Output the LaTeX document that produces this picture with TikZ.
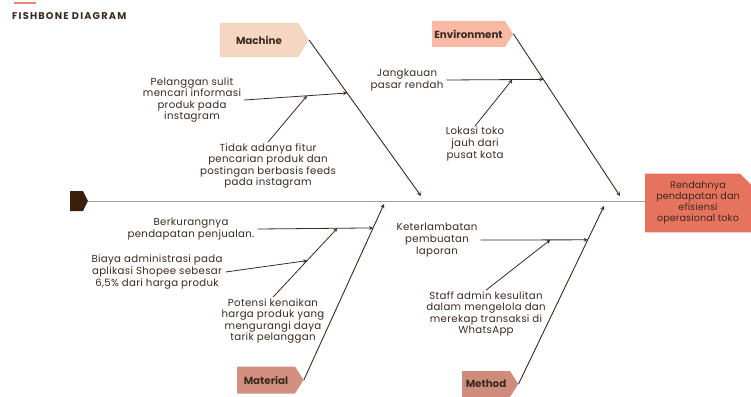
\documentclass[tikz,border=0pt]{standalone}
\usepackage{fontspec}
\setmainfont{Poppins}
\usepackage{xcolor}
\usetikzlibrary{arrows,calc,positioning,shapes.symbols,shapes.misc}

\definecolor{ink}{HTML}{3B2A20}
\definecolor{spinec}{HTML}{A59C97}
\definecolor{headfill}{HTML}{3A1E0E}
\definecolor{accentc}{HTML}{E9876F}
\definecolor{machinefill}{HTML}{F5D6C3}
\definecolor{envfill}{HTML}{F8B9A5}
\definecolor{matfill}{HTML}{D38F7F}
\definecolor{methodfill}{HTML}{CF8C7C}
\definecolor{effectfill}{HTML}{E6735E}

\begin{document}
\begin{tikzpicture}[
            x=1pt, y=-1pt,
            >=stealth,
            every node/.style={text=ink},
            note/.style={align=center, inner xsep=3pt, inner ysep=1pt,
                font=\fontsize{10.2}{11.6}\selectfont\addfontfeature{LetterSpace=3}},
            category/.style={signal, signal to=east, signal pointer angle=115,
                align=center, inner xsep=0pt, inner ysep=0pt,
                font=\bfseries\fontsize{10.3}{11}\selectfont},
            effect/.style={chamfered rectangle, chamfered rectangle corners=north east,
                chamfered rectangle xsep=3pt, chamfered rectangle ysep=8pt,
                fill=effectfill, minimum width=106pt, minimum height=52pt,
                align=center, inner sep=0pt,
                font=\fontsize{9.6}{11}\selectfont\addfontfeature{LetterSpace=1}},
            bone/.style={->, draw=ink, line width=0.9pt},
            twig/.style={->, draw=ink, line width=0.8pt}
        ]
        \useasboundingbox (0,0) rectangle (751,396);

        % title
        \draw[accentc, line width=1.5pt] (14,3) -- (36,3);
        \node[anchor=west, inner sep=0pt,
            font=\bfseries\fontsize{9.8}{10}\selectfont\addfontfeature{LetterSpace=12}]
            (title) at (12,16) {FISHBONE DIAGRAM};

        % head, spine and effect
        \node[signal, signal to=east, signal pointer angle=127, fill=headfill,
            text width=13pt, minimum height=20pt, inner sep=0pt] (head) at (76.5,201) {};
        \node[effect] (effect) at (698,203)
            {Rendahnya\\pendapatan dan\\efisiensi\\operasional toko};
        \draw[spinec, line width=1pt] (head.east) -- (head.east -| effect.west);

        % categories
        \node[category, fill=machinefill, text width=78pt, minimum height=34pt]
            (machine) at (259,40) {Machine};
        \node[category, fill=envfill, text width=73pt, minimum height=26pt]
            (env) at (468.5,34) {Environment};
        \node[category, fill=matfill, text width=58pt, minimum height=27pt]
            (material) at (266,380) {Material};
        \node[category, fill=methodfill, text width=48pt, minimum height=26pt]
            (method) at (486,384) {Method};

        \coordinate (machineEnd) at (421,196);
        \coordinate (envEnd) at (620,196);
        \coordinate (materialEnd) at (384,204);
        \coordinate (methodEnd) at (604,206);

        \draw[bone] (machine.east) -- (machineEnd);
        \draw[bone] (env.east) -- (envEnd);
        \draw[bone] (material.east) -- (materialEnd);
        \draw[bone] (method.east) -- (methodEnd);

        \coordinate (machineJoin) at ($(machine.east)!0.34!(machineEnd)$);
        \coordinate (envJoin) at ($(env.east)!0.28!(envEnd)$);
        \coordinate (materialJoin) at ($(material.east)!0.864!(materialEnd)$);
        \coordinate (methodJoin) at ($(method.east)!0.81!(methodEnd)$);

        % causes
        \node[note] (pelanggan) at (192,100)
            {Pelanggan sulit\\mencari informasi\\produk pada\\instagram};
        \node[note] (fitur) at (268,166)
            {Tidak adanya fitur\\pencarian produk dan\\postingan berbasis feeds\\pada instagram};
        \node[note] (jangkauan) at (407,80)
            {Jangkauan\\pasar rendah};
        \node[note] (lokasi) at (475,144)
            {Lokasi toko\\jauh dari\\pusat kota};
        \node[note] (berkurang) at (191,229)
            {Berkurangnya\\pendapatan penjualan.};
        \node[note] (biaya) at (157,272)
            {Biaya administrasi pada\\aplikasi Shopee sebesar\\6,5\% dari harga produk};
        \node[note] (potensi) at (273,321)
            {Potensi kenaikan\\harga produk yang\\mengurangi daya\\tarik pelanggan};
        \node[note] (terlambat) at (437,240)
            {Keterlambatan\\pembuatan\\laporan};
        \node[note] (staff) at (486,314)
            {Staff admin kesulitan\\dalam mengelola dan\\merekap transaksi di\\WhatsApp};

        \draw[twig] (pelanggan.east) -- (machineJoin);
        \draw[twig] (fitur.north) -- ($(pelanggan.east)!0.61!(machineJoin)$);
        \draw[twig] (jangkauan.east) -- (envJoin);
        \draw[twig] (lokasi.north) -- ($(jangkauan.east)!0.68!(envJoin)$);
        \draw[twig] (berkurang.east) -- (materialJoin);
        \coordinate (potensiTip) at ($(berkurang.east)!0.69!(materialJoin)$);
        \draw[twig] (potensi.north) -- (potensiTip);
        \draw[twig] (biaya.east) -- ($(potensi.north)!0.53!(potensiTip)$);
        \draw[twig] (terlambat.east) -- (methodJoin);
        \draw[twig] (staff.north) -- ($(terlambat.east)!0.65!(methodJoin)$);
\end{tikzpicture}
\end{document}
